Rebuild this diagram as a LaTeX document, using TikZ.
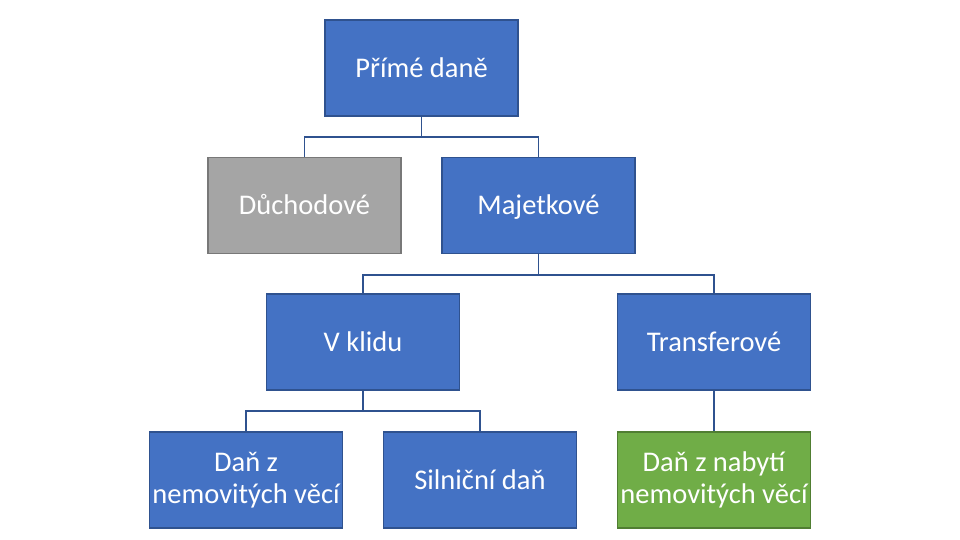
\documentclass[tikz,border=0pt]{standalone}
\usepackage{fontspec}
\setmainfont{Carlito}
\definecolor{bfill}{HTML}{4472C4}
\definecolor{bline}{HTML}{2F528F}
\definecolor{gfill}{HTML}{A5A5A5}
\definecolor{gline}{HTML}{787878}
\definecolor{nfill}{HTML}{70AD47}
\definecolor{nline}{HTML}{507E32}
\begin{document}
\begin{tikzpicture}[x=1pt,y=1pt,
  box/.style={draw=bline, fill=bfill, line width=1.6pt, minimum width=193pt, minimum height=96pt,
    inner sep=0pt, align=center, text=white, font=\fontsize{28.5}{32.5}\selectfont},
  one/.style={text height=18.4pt, text depth=0pt},
  graybox/.style={box, draw=gline, fill=gfill},
  greenbox/.style={box, draw=nline, fill=nfill},
  conn/.style={draw=bline, line width=1.8pt}]
\useasboundingbox (0,0) rectangle (960,540);
\node[box,one] (P) at (421.5,472) {Přímé daně};
\node[graybox,one] (D) at (304.5,334.5) {Důchodové};
\node[box,one] (M) at (538.5,334.5) {Majetkové};
\node[box,one] (V) at (363,198) {V klidu};
\node[box,one] (T) at (714,198) {Transferové};
\node[box] (N1) at (246,60) {Daň z\\nemovitých věcí};
\node[box,one] (S) at (480,60) {Silniční daň};
\node[greenbox] (N2) at (714,60) {Daň z nabytí\\nemovitých věcí};
\draw[conn] (P.south) -- ++(0,-20.5) -| (D.north);
\draw[conn] (P.south) -- ++(0,-20.5) -| (M.north);
\draw[conn] (M.south) -- ++(0,-20.5) -| (V.north);
\draw[conn] (M.south) -- ++(0,-20.5) -| (T.north);
\draw[conn] (V.south) -- ++(0,-20.5) -| (N1.north);
\draw[conn] (V.south) -- ++(0,-20.5) -| (S.north);
\draw[conn] (T.south) -- (N2.north);
\end{tikzpicture}
\end{document}
